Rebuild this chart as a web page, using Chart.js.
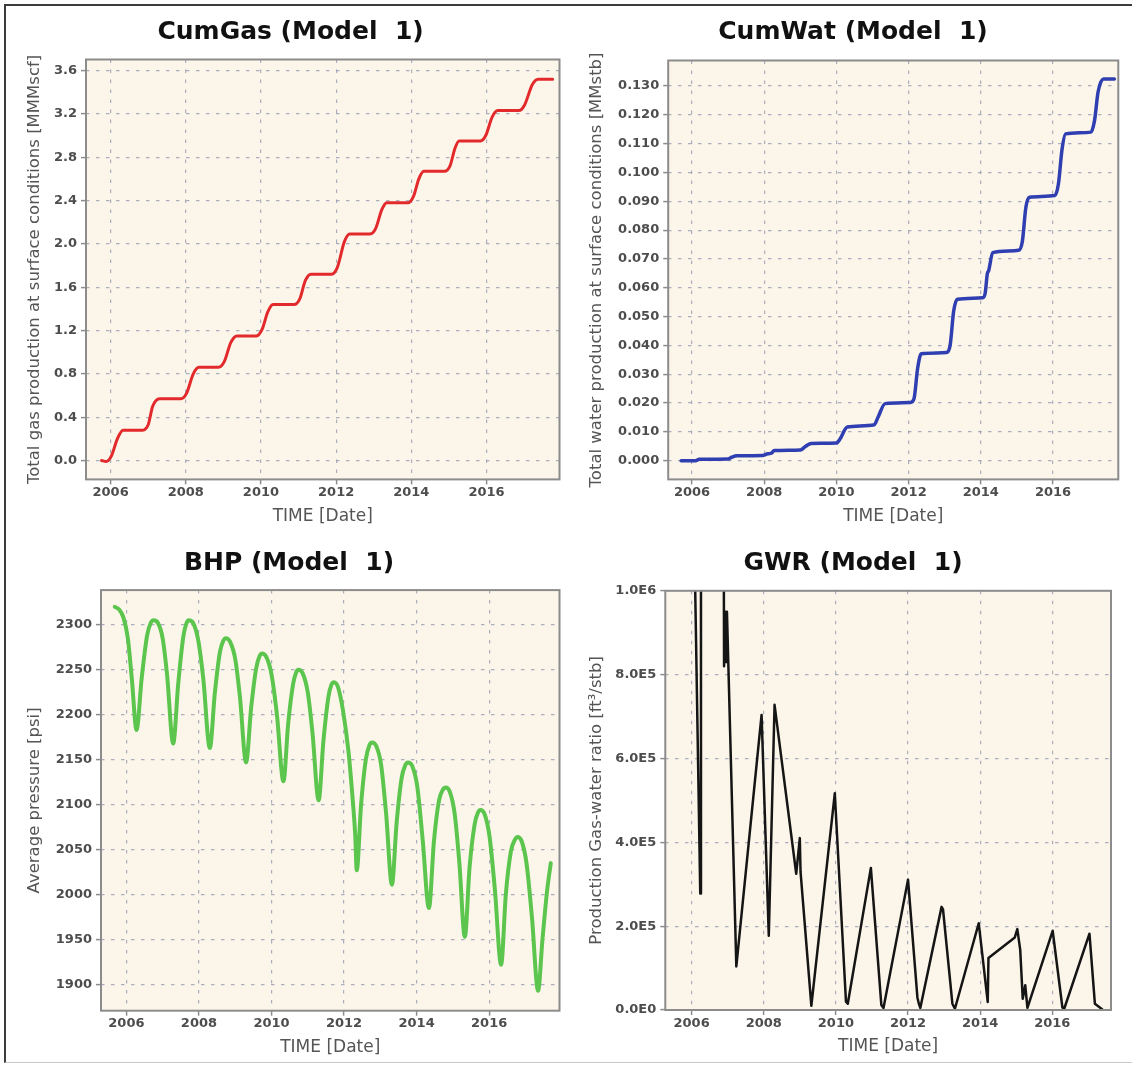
<!DOCTYPE html>
<html>
<head>
<meta charset="utf-8">
<script src="https://cdn.jsdelivr.net/npm/chart.js@4.4.1/dist/chart.umd.min.js"></script>
<style>
html,body{margin:0;padding:0;background:#ffffff;}
#wrap{position:relative;width:1132px;height:1066px;overflow:hidden;background:#ffffff;}
#frame{position:absolute;left:4px;top:4px;width:1140px;height:1059px;border-left:2px solid #3c3c3c;border-top:2px solid #3c3c3c;border-bottom:1px solid #c8c8c8;box-sizing:border-box;}
canvas{position:absolute;}
</style>
</head>
<body>
<div id="wrap">
  <div id="frame"></div>
  <canvas id="cGas" width="566" height="533" style="left:0px;top:0px"></canvas>
  <canvas id="cWat" width="566" height="533" style="left:566px;top:0px"></canvas>
  <canvas id="cBhp" width="566" height="533" style="left:0px;top:533px"></canvas>
  <canvas id="cGwr" width="566" height="533" style="left:566px;top:533px"></canvas>
</div>
<script>
// ---------- tick values and labels ----------
const xTickValues = [2006, 2008, 2010, 2012, 2014, 2016];
const xTickLabels = ['2006', '2008', '2010', '2012', '2014', '2016'];

const gasTickValues = [0, 0.4, 0.8, 1.2, 1.6, 2.0, 2.4, 2.8, 3.2, 3.6];
const gasTickLabels = ['0.0', '0.4', '0.8', '1.2', '1.6', '2.0', '2.4', '2.8', '3.2', '3.6'];

const watTickValues = [0, 0.01, 0.02, 0.03, 0.04, 0.05, 0.06, 0.07, 0.08, 0.09, 0.10, 0.11, 0.12, 0.13];
const watTickLabels = ['0.000', '0.010', '0.020', '0.030', '0.040', '0.050', '0.060', '0.070', '0.080', '0.090', '0.100', '0.110', '0.120', '0.130'];

const bhpTickValues = [1900, 1950, 2000, 2050, 2100, 2150, 2200, 2250, 2300];
const bhpTickLabels = ['1900', '1950', '2000', '2050', '2100', '2150', '2200', '2250', '2300'];

const gwrTickValues = [0, 200000, 400000, 600000, 800000, 1000000];
const gwrTickLabels = ['0.0E0', '2.0E5', '4.0E5', '6.0E5', '8.0E5', '1.0E6'];

// ---------- series: CumGas [MMMscf] ----------
const gasTime = [2005.76, 2005.88, 2006.02, 2006.18, 2006.33, 2006.85, 2007.00, 2007.12, 2007.30, 2007.87, 2008.02, 2008.20, 2008.35, 2008.87, 2009.02, 2009.20, 2009.36, 2009.88, 2010.03, 2010.18, 2010.32, 2010.88, 2011.03, 2011.18, 2011.33, 2011.88, 2012.03, 2012.22, 2012.36, 2012.90, 2013.05, 2013.22, 2013.35, 2013.92, 2014.06, 2014.20, 2014.33, 2014.88, 2015.03, 2015.16, 2015.27, 2015.84, 2015.98, 2016.15, 2016.30, 2016.86, 2017.01, 2017.22, 2017.37, 2017.76];
const gasValue = [0.00, -0.01, 0.04, 0.20, 0.28, 0.28, 0.33, 0.50, 0.57, 0.57, 0.62, 0.80, 0.86, 0.86, 0.91, 1.09, 1.15, 1.15, 1.21, 1.37, 1.44, 1.44, 1.49, 1.66, 1.72, 1.72, 1.78, 2.02, 2.09, 2.09, 2.14, 2.32, 2.38, 2.38, 2.44, 2.60, 2.67, 2.67, 2.72, 2.88, 2.95, 2.95, 3.00, 3.17, 3.23, 3.23, 3.28, 3.47, 3.52, 3.52];

// ---------- series: CumWat [MMstb] ----------
const watTime = [2005.70, 2006.10, 2006.20, 2007.00, 2007.10, 2007.25, 2007.95, 2008.10, 2008.20, 2008.28, 2009.00, 2009.15, 2009.30, 2010.00, 2010.10, 2010.30, 2011.05, 2011.15, 2011.35, 2012.05, 2012.15, 2012.25, 2012.35, 2013.05, 2013.15, 2013.25, 2013.35, 2014.05, 2014.12, 2014.18, 2014.22, 2014.33, 2015.05, 2015.15, 2015.25, 2015.35, 2016.05, 2016.15, 2016.25, 2016.35, 2017.05, 2017.15, 2017.25, 2017.40, 2017.70];
const watValue = [0.0000, 0.0000, 0.0005, 0.0006, 0.0012, 0.0017, 0.0018, 0.0024, 0.0026, 0.0035, 0.0037, 0.0050, 0.0060, 0.0061, 0.0075, 0.0117, 0.0125, 0.0150, 0.0198, 0.0202, 0.0215, 0.0320, 0.0371, 0.0375, 0.0400, 0.0520, 0.0560, 0.0565, 0.0580, 0.0648, 0.0660, 0.0722, 0.0730, 0.0760, 0.0880, 0.0914, 0.0920, 0.0960, 0.1080, 0.1134, 0.1140, 0.1180, 0.1280, 0.1324, 0.1324];

// ---------- series: BHP [psi] ----------
const bhpTime = [2005.68, 2005.80, 2005.92, 2006.04, 2006.15, 2006.28, 2006.42, 2006.57, 2006.67, 2006.75, 2006.87, 2007.00, 2007.12, 2007.29, 2007.43, 2007.57, 2007.65, 2007.72, 2007.84, 2007.98, 2008.12, 2008.30, 2008.44, 2008.58, 2008.67, 2008.74, 2008.86, 2009.00, 2009.13, 2009.30, 2009.44, 2009.58, 2009.67, 2009.74, 2009.86, 2010.00, 2010.15, 2010.33, 2010.46, 2010.60, 2010.68, 2010.74, 2010.86, 2011.00, 2011.13, 2011.30, 2011.43, 2011.57, 2011.65, 2011.72, 2011.84, 2011.97, 2012.12, 2012.22, 2012.31, 2012.35, 2012.47, 2012.60, 2012.70, 2012.77, 2012.89, 2013.02, 2013.16, 2013.32, 2013.45, 2013.59, 2013.69, 2013.76, 2013.88, 2014.02, 2014.17, 2014.34, 2014.48, 2014.62, 2014.73, 2014.80, 2014.92, 2015.05, 2015.18, 2015.33, 2015.46, 2015.60, 2015.69, 2015.76, 2015.88, 2016.01, 2016.16, 2016.33, 2016.46, 2016.60, 2016.71, 2016.78, 2016.90, 2017.03, 2017.18, 2017.35, 2017.47, 2017.60, 2017.70];
const bhpValue = [2320, 2317, 2308, 2285, 2240, 2183, 2240, 2288, 2302, 2305, 2302, 2285, 2245, 2168, 2235, 2287, 2301, 2305, 2302, 2283, 2240, 2163, 2225, 2270, 2282, 2285, 2281, 2262, 2220, 2147, 2208, 2252, 2265, 2268, 2264, 2245, 2200, 2126, 2190, 2235, 2247, 2250, 2246, 2225, 2180, 2105, 2170, 2220, 2233, 2236, 2230, 2205, 2160, 2115, 2065, 2027, 2100, 2150, 2166, 2169, 2165, 2145, 2090, 2011, 2080, 2130, 2144, 2147, 2143, 2120, 2060, 1985, 2060, 2105, 2117, 2119, 2114, 2090, 2035, 1953, 2030, 2078, 2091, 2094, 2089, 2065, 2005, 1922, 2000, 2048, 2061, 2064, 2059, 2035, 1975, 1893, 1950, 2005, 2035];

// ---------- series: GWR [ft3/stb] ----------
const gwrTime = [2006.05, 2006.24, 2006.26, 2006.88, 2006.90, 2006.95, 2006.96, 2006.98, 2007.24, 2007.94, 2008.14, 2008.30, 2008.90, 2009.00, 2009.02, 2009.32, 2009.97, 2010.28, 2010.33, 2010.97, 2011.26, 2011.32, 2012.00, 2012.26, 2012.30, 2012.34, 2012.93, 2012.97, 2013.23, 2013.30, 2013.96, 2014.21, 2014.23, 2014.96, 2015.03, 2015.11, 2015.18, 2015.25, 2015.31, 2016.01, 2016.28, 2016.33, 2017.03, 2017.18, 2017.38];
const gwrValue = [1260000, 278000, 3000000, 1500000, 820000, 950000, 830000, 950000, 104000, 704000, 177000, 728000, 325000, 410000, 330000, 10000, 517000, 20000, 15000, 339000, 12000, 5000, 311000, 30000, 15000, 5000, 246000, 240000, 15000, 3000, 207000, 19000, 124000, 173000, 193000, 144000, 27000, 59000, 5000, 189000, 6000, 3000, 182000, 15000, 2000];

// ---------- styling ----------
const FAMILY = "'DejaVu Sans', 'Liberation Sans', sans-serif";
const tickFont = { family: FAMILY, size: 13, weight: 'bold' };
const tickColor = '#4d4d4d';
const gridColor = 'rgba(150,156,178,0.8)';
const gridDash = [3.5, 6.5];

const plotFrame = {
  id: 'plotFrame',
  beforeDraw(chart) {
    const a = chart.chartArea;
    const ctx = chart.ctx;
    ctx.save();
    ctx.fillStyle = '#fcf6ea';
    ctx.fillRect(a.left, a.top, a.right - a.left, a.bottom - a.top);
    ctx.restore();
  },
  afterDraw(chart) {
    const a = chart.chartArea;
    const ctx = chart.ctx;
    ctx.save();
    ctx.strokeStyle = '#8c8c8c';
    ctx.lineWidth = 2;
    ctx.strokeRect(a.left, a.top, a.right - a.left, a.bottom - a.top);
    ctx.restore();
  }
};

function toPoints(xs, ys) {
  return xs.map((x, i) => ({ x: x, y: ys[i] }));
}

function makePanel(id, p) {
  const xScale = {
    type: 'linear',
    min: p.xmin, max: p.xmax,
    afterBuildTicks: s => { s.ticks = xTickValues.map(v => ({ value: v })); },
    afterFit: s => { s.height = 47; },
    ticks: {
      callback: (v, i) => xTickLabels[i],
      font: tickFont, color: tickColor, padding: 0.5,
      maxRotation: 0, minRotation: 0, autoSkip: false
    },
    grid: { color: gridColor, lineWidth: 1.2, tickLength: 5, tickColor: '#8c8c8c', tickWidth: 1.5 },
    border: { display: false, dash: gridDash },
    title: { display: true, text: 'TIME [Date]', font: { family: FAMILY, size: 17 }, color: '#555555', padding: { top: 0, bottom: 0 } }
  };
  const yScale = {
    type: 'linear',
    min: p.ymin, max: p.ymax,
    afterBuildTicks: s => { s.ticks = p.yTicks.map(v => ({ value: v })); },
    afterFit: s => { s.width = p.yWidth; },
    ticks: {
      callback: (v, i) => p.yLabels[i],
      font: tickFont, color: tickColor, padding: 4, autoSkip: false
    },
    grid: { color: gridColor, lineWidth: 1.2, tickLength: 5, tickColor: '#8c8c8c', tickWidth: 1.5 },
    border: { display: false, dash: gridDash },
    title: { display: true, text: p.yTitle, font: { family: FAMILY, size: 16.5 }, color: '#555555', padding: { top: p.yTitlePad, bottom: 0 } }
  };
  return new Chart(document.getElementById(id), {
    type: 'line',
    data: {
      datasets: [{
        data: toPoints(p.xs, p.ys),
        borderColor: p.color,
        borderWidth: p.lw,
        pointRadius: 0,
        fill: false,
        tension: 0,
        cubicInterpolationMode: p.smooth ? 'monotone' : 'default',
        borderJoinStyle: 'round',
        borderCapStyle: 'round',
        clip: 0
      }]
    },
    options: {
      responsive: false,
      animation: false,
      devicePixelRatio: 1,
      layout: { padding: { left: p.L, right: p.R, top: 0, bottom: p.B } },
      scales: { x: xScale, y: yScale },
      plugins: {
        legend: { display: false },
        tooltip: { enabled: false },
        title: {
          display: true, text: p.title,
          font: { family: FAMILY, size: 25, weight: 'bold' },
          color: '#111111',
          padding: { top: p.tTop, bottom: p.tBottom }
        }
      }
    },
    plugins: [plotFrame]
  });
}

makePanel('cGas', {
  title: 'CumGas (Model  1)',
  yTitle: 'Total gas production at surface conditions [MMMscf]',
  xs: gasTime, ys: gasValue, color: '#e22a2c', lw: 3, smooth: true,
  xmin: 2005.346, xmax: 2017.942, ymin: -0.1745, ymax: 3.7015,
  yTicks: gasTickValues, yLabels: gasTickLabels,
  L: 21.7, R: 6.5, B: 6.6, yWidth: 64.3, yTitlePad: 3.4, tTop: 17.3, tBottom: 12.2
});

makePanel('cWat', {
  title: 'CumWat (Model  1)',
  yTitle: 'Total water production at surface conditions [MMstb]',
  xs: watTime, ys: watValue, color: '#2f3eb0', lw: 3.5, smooth: true,
  xmin: 2005.341, xmax: 2017.809, ymin: -0.00649, ymax: 0.13885,
  yTicks: watTickValues, yLabels: watTickLabels,
  L: 21.7, R: 13.7, B: 6.6, yWidth: 80.5, yTitlePad: -0.6, tTop: 17.3, tBottom: 13.2
});

makePanel('cBhp', {
  title: 'BHP (Model  1)',
  yTitle: 'Average pressure [psi]',
  xs: bhpTime, ys: bhpValue, color: '#5cc54e', lw: 4, smooth: true,
  xmin: 2005.30, xmax: 2017.94, ymin: 1870.9, ymax: 2338.6,
  yTicks: bhpTickValues, yLabels: bhpTickLabels,
  L: 18.5, R: 6.5, B: 8.3, yWidth: 82.5, yTitlePad: 6.6, tTop: 15, tBottom: 12.1
});

makePanel('cGwr', {
  title: 'GWR (Model  1)',
  yTitle: 'Production Gas-water ratio [ft\u00B3/stb]',
  xs: gwrTime, ys: gwrValue, color: '#151515', lw: 2.5, smooth: false,
  xmin: 2005.271, xmax: 2017.627, ymin: 0, ymax: 1000000,
  yTicks: gwrTickValues, yLabels: gwrTickLabels,
  L: 29, R: 21, B: 9, yWidth: 70.3, yTitlePad: -7.9, tTop: 15, tBottom: 12.8
});
</script>
</body>
</html>
